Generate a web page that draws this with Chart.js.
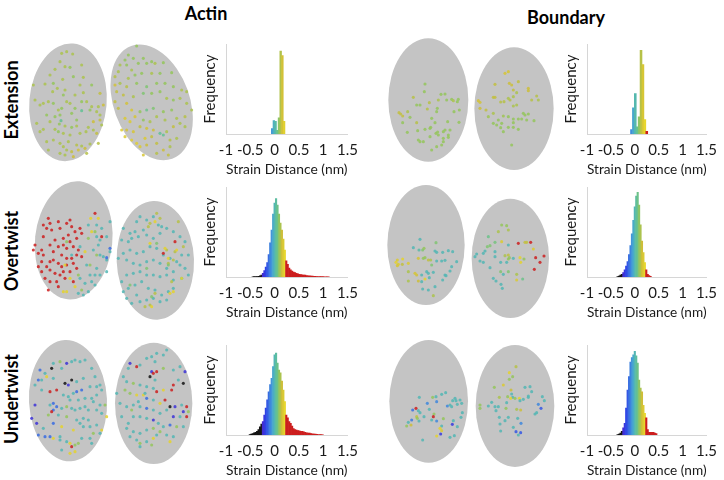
<!DOCTYPE html>
<html><head><meta charset="utf-8">
<script src="https://cdn.jsdelivr.net/npm/chart.js@4.4.1/dist/chart.umd.min.js"></script>
<style>
html,body{margin:0;padding:0;background:#fff;width:724px;height:480px;overflow:hidden;font-family:Lato,sans-serif;}
canvas{position:absolute;display:block;}
.title{position:absolute;font-weight:bold;font-size:18px;color:#000;transform:translateX(-50%);white-space:nowrap;line-height:1;}
.rowlab{position:absolute;font-weight:bold;font-size:18px;color:#000;transform:translate(-50%,-50%) rotate(-90deg);white-space:nowrap;line-height:1;}
</style></head><body>
<div class="title" style="left:206px;top:4px">Actin</div>
<div class="title" style="left:566px;top:8px">Boundary</div>
<div class="rowlab" style="left:11px;top:100px">Extension</div>
<div class="rowlab" style="left:11px;top:251px">Overtwist</div>
<div class="rowlab" style="left:11px;top:399px">Undertwist</div>
<script>
// ---------- DATA ----------
const strainTickValues = [-1, -0.5, 0, 0.5, 1, 1.5];
const strainTickLabels = ['-1', '-0.5', '0', '0.5', '1', '1.5'];
const columnTitles = ['Actin', 'Boundary'];
const rowTitles = ['Extension', 'Overtwist', 'Undertwist'];

// histogram bins (nm) and relative frequency
const extActinBins = [-0.05,-0.015,0.02,0.055,0.09,0.125,0.16,0.195];
const extActinFreq = [6,15,14,4,18,92,87,14];
const extBoundaryBins = [-0.07,-0.03,0.01,0.05,0.09,0.13,0.17,0.21,0.25];
const extBoundaryFreq = [5,29,45,8,19,93,77,16,3];

const overActinBins = [-0.45,-0.42,-0.39,-0.36,-0.33,-0.30,-0.27,-0.24,-0.21,-0.18,-0.15,-0.12,-0.09,-0.06,-0.03,0,0.03,0.06,0.09,0.12,0.15,0.18,0.21,0.24,0.27,0.30,0.33,0.36,0.39,0.42,0.45,0.48,0.51,0.54,0.57,0.60,0.63,0.66,0.69,0.72,0.75,0.78,0.81,0.84,0.87,0.90,0.93,0.96,0.99,1.02,1.05,1.08,1.11];
const overActinFreq = [0.3,0.4,0.5,0.6,0.8,1.2,2,4,7,11,16,25,38,52,70,82,87,80,70,60,52,42,30,18,14,10,8,6.5,5.5,5,4,3.5,3,2.8,2.5,2.2,2,1.6,1.4,1.2,1,1,0.8,0.7,0.6,0.5,0.5,0.4,0.4,0.3,0.3,0.2,0.2];
const overBoundaryBins = [-0.36,-0.33,-0.30,-0.27,-0.24,-0.21,-0.18,-0.15,-0.12,-0.09,-0.06,-0.03,0,0.03,0.06,0.09,0.12,0.15,0.18,0.21,0.24,0.27,0.30,0.33];
const overBoundaryFreq = [0.5,1,2,3,5,8,12,17,25,35,48,63,78,90,94,80,58,40,27,16,8,3,1.5,0.8];

const underActinBins = [-0.51,-0.48,-0.45,-0.42,-0.39,-0.36,-0.33,-0.30,-0.27,-0.24,-0.21,-0.18,-0.15,-0.12,-0.09,-0.06,-0.03,0,0.03,0.06,0.09,0.12,0.15,0.18,0.21,0.24,0.27,0.30,0.33,0.36,0.39,0.42,0.45,0.48,0.51,0.54,0.57,0.60,0.63,0.66,0.69,0.72,0.75,0.78,0.81,0.84,0.87,0.90,0.93,0.96,0.99];
const underActinFreq = [0.5,1,1.5,2.5,3,4,6,9,12,15,22,30,39,48,56,63,76,89,91,80,72,69,60,50,37,22,19,15,13,10,7,6,5.5,5,4.5,4,4,3.5,3,2.5,2,2,1.5,1.2,1,1,0.8,0.6,0.5,0.4,0.3];
const underBoundaryBins = [-0.36,-0.33,-0.30,-0.27,-0.24,-0.21,-0.18,-0.15,-0.12,-0.09,-0.06,-0.03,0,0.03,0.06,0.09,0.12,0.15,0.18,0.21,0.24,0.27,0.30,0.33,0.36,0.39,0.42,0.45];
const underBoundaryFreq = [0.5,1,2,4,8,13,30,50,65,81,86,89,93,88,80,61,52,48,33,24,19,6,3,3,3,3,2,1.5];

// cell dots: [x, y, strain] in image units of each panel
const extActinDots = [[185,40,.12],[200,35,.12],[218,42,.12],[180,65,.12],[195,80,.12],[210,82,.1],[245,75,.12],[165,88,.12],[150,105,.12],[220,110,.1],[188,118,.12],[250,112,.12],[135,132,.12],[160,130,.1],[240,135,.12],[275,135,.1],[195,150,.12],[172,145,.12],[190,165,.1],[225,165,.12],[250,158,.12],[300,160,.14],[158,155,.12],[130,190,.12],[145,185,.12],[160,190,.1],[175,210,.12],[185,205,.1],[200,185,.12],[210,190,.12],[245,185,.1],[260,185,.12],[275,200,.12],[295,200,.12],[310,195,.15],[120,195,.12],[225,205,.1],[245,212,.05],[270,210,.1],[290,215,.12],[300,225,.12],[180,225,.1],[215,220,.1],[183,242,.05],[178,252,.1],[195,258,.12],[215,262,.1],[230,258,.12],[265,262,.12],[280,245,.15],[300,240,.14],[305,255,.12],[150,245,.12],[110,250,.12],[130,268,.12],[165,268,.12],[175,275,.1],[190,280,.12],[210,285,.12],[240,280,.12],[258,275,.12],[280,270,.12],[290,280,.14],[140,305,.12],[160,300,.12],[180,310,.12],[205,305,.12],[230,315,.13],[245,318,.12],[270,312,.12],[295,310,.13],[190,320,.12],[200,330,.12],[215,335,.14],[235,330,.16],[255,325,.15],[260,340,.13],[145,330,.12],[180,340,.12],[220,350,.15],[195,345,.12],[100,135,.12],[105,180,.12],[140,225,.1],[120,275,.12],[165,230,.1],[230,240,.1],
[410,18,.1],[385,45,.1],[400,55,.1],[375,60,.1],[360,75,.12],[380,75,.1],[395,90,.12],[415,70,.1],[430,55,.1],[440,70,.1],[455,65,.1],[465,70,.12],[490,68,.1],[515,98,.1],[480,100,.1],[455,100,.12],[425,100,.1],[405,105,.1],[385,115,.12],[355,95,.12],[345,110,.13],[360,130,.12],[380,140,.13],[410,130,.1],[440,140,.08],[470,130,.1],[495,130,.1],[520,140,.1],[545,150,.12],[560,155,.12],[345,135,.16],[350,155,.14],[370,165,.14],[400,170,.12],[430,160,.08],[455,160,.1],[480,155,.1],[500,175,.12],[520,180,.1],[540,175,.12],[560,190,.12],[575,210,.12],[555,230,.13],[530,235,.12],[515,210,.1],[490,215,.1],[460,205,.08],[440,210,.06],[420,215,.1],[395,210,.17],[380,190,.16],[345,185,.14],[355,205,.14],[375,235,.18],[390,245,.18],[405,230,.17],[430,240,.1],[450,245,.12],[470,230,.12],[495,240,.12],[540,250,.12],[555,260,.12],[520,260,.14],[500,275,.12],[480,280,.05],[460,270,.15],[440,265,.16],[420,260,.14],[400,275,.17],[380,270,.16],[365,270,.18],[375,290,.18],[395,300,.19],[410,310,.19],[435,295,.18],[455,290,.14],[490,285,.05],[510,300,.13],[530,295,.12],[420,320,.18],[440,315,.15],[470,310,.14],[490,330,.15],[505,345,.14],[470,340,.13],[510,320,.12],[430,345,.17]];

const overActinDots = [[130,150,.35],[145,130,.35],[150,145,.35],[140,160,.35],[130,185,.35],[155,165,.35],[175,140,.35],[180,160,.35],[200,145,.35],[210,135,.35],[215,155,.35],[225,170,.35],[205,180,.35],[190,190,.35],[210,200,.35],[230,190,.35],[240,160,.35],[165,195,.35],[150,210,.35],[175,215,.35],[190,210,.35],[200,220,.35],[220,215,.35],[230,240,.35],[245,245,.35],[105,210,.35],[115,235,.35],[130,240,.35],[125,225,.35],[150,260,.35],[160,255,.35],[175,265,.35],[185,275,.35],[200,270,.35],[220,265,.35],[215,250,.35],[140,275,.35],[115,275,.35],[125,290,.35],[150,285,.35],[165,295,.35],[180,300,.35],[190,290,.35],[210,290,.35],[230,280,.35],[135,310,.35],[150,320,.35],[175,335,.35],[145,345,.35],[195,310,.35],[125,260,.35],[100,225,.35],[235,225,.35],[185,240,.35],[160,230,.35],[285,115,.35],[305,185,.35],[245,175,.35],[200,250,.35],[170,320,.35],[220,320,.35],
[272,130,.2],[295,130,.2],[275,170,.2],[255,230,.2],[195,270,.2],[210,310,.2],[200,350,.2],[190,350,.2],[225,335,.2],
[265,190,.1],[285,170,.1],[235,300,.1],[245,345,.1],[270,270,.1],[290,240,.1],[200,200,.1],
[265,150,0],[290,150,0],[305,160,0],[320,185,0],[330,140,0],[290,185,0],[295,210,0],[280,225,0],[300,240,0],[310,245,0],[320,255,0],[330,230,0],[240,215,0],[215,240,0],[260,270,0],[290,280,0],[300,300,0],[285,300,0],[270,300,0],[275,320,0],[255,325,0],[240,310,0],[265,350,0],[250,360,0],[235,355,0],[300,195,0],[320,290,0],[285,330,0],
[330,220,-.12],[320,248,-.12],
[420,125,0],[410,140,0],[440,135,0],[460,125,0],[475,150,0],[485,155,0],[430,165,0],[405,170,0],[390,175,0],[370,160,0],[365,195,0],[385,200,0],[395,190,0],[415,185,0],[440,180,0],[460,190,0],[480,175,0],[500,160,0],[520,170,0],[540,185,0],[555,200,0],[565,240,0],[545,240,0],[530,260,0],[510,250,0],[490,240,0],[470,220,0],[450,215,0],[430,230,0],[410,235,0],[390,225,0],[370,235,0],[355,250,0],[380,255,0],[400,265,0],[420,270,0],[440,260,0],[460,255,0],[480,265,0],[500,280,0],[520,290,0],[540,270,0],[555,280,0],[565,300,0],[545,310,0],[520,315,0],[500,300,0],[480,305,0],[460,300,0],[440,300,0],[420,290,0],[400,295,0],[380,300,0],[365,320,0],[385,340,0],[405,330,0],[425,320,0],[445,340,0],[465,345,0],[485,360,0],[505,350,0],[520,340,0],[410,360,0],[395,385,0],[420,380,0],[440,375,0],[460,370,0],[480,380,0],[500,375,0],[370,350,0],[380,370,0],
[470,115,.13],[480,130,.13],[450,145,.13],[445,155,.13],[535,140,.13],[500,225,.13],[550,215,.13],[525,230,.13],[505,265,.13],[520,255,.13],[515,320,.13],[465,355,.13],[450,390,.13],[435,395,.13],
[505,250,.2],[530,225,.2],[465,140,.2],[520,350,.2],[510,355,.2],[455,395,.2],[450,205,.2],[495,220,.2],[545,310,.2],
[525,200,.35],[490,235,.35],
[470,205,.08],[505,270,.08],[440,280,.08],[455,365,.08],[390,330,.08]];

const underActinDots = [[160,160,0],[180,155,.1],[200,160,-.22],[215,155,0],[225,150,0],[240,155,0],[255,150,0],[275,175,0],[120,180,-.12],[135,190,0],[155,175,-.35],[115,210,-.12],[105,225,0],[125,210,0],[140,200,.2],[160,205,0],[195,220,-.35],[205,225,-.22],[215,210,-.35],[230,215,0],[250,205,0],[285,200,0],[290,230,0],[300,225,0],[305,240,0],[270,230,0],[245,240,-.12],[230,245,-.12],[150,245,.35],[170,240,.35],[125,240,0],[190,255,0],[205,260,0],[220,250,0],[235,270,0],[255,265,0],[275,265,0],[290,255,0],[280,275,0],[300,285,0],[315,285,.1],[105,285,-.22],[150,285,0],[160,280,-.12],[170,290,-.12],[160,300,-.12],[185,295,0],[200,290,.1],[215,295,0],[225,300,0],[240,295,0],[255,290,0],[265,300,0],[290,300,0],[305,310,0],[320,320,.2],[155,305,.35],[145,315,.1],[175,315,0],[200,320,.1],[230,330,0],[250,325,0],[265,330,0],[270,350,0],[290,345,0],[305,360,.2],[300,370,0],[280,370,.1],[270,385,0],[250,350,0],[240,340,0],[220,360,.2],[185,350,.2],[160,340,-.12],[110,340,-.22],[95,325,-.22],[115,375,-.12],[135,380,-.12],[150,380,-.12],[160,385,.2],[180,390,0],[200,395,0],[210,400,.2],[215,410,.35],[225,405,.1],[235,400,.1],[210,430,.2],[225,425,.2],[185,420,0],[245,385,0],[130,355,0],[210,270,0],[185,175,0],[180,380,0],[275,400,0],
[390,160,-.22],[385,175,0],[410,170,.35],[420,165,0],[440,145,0],[455,140,0],[470,130,0],[490,135,0],[500,120,0],[465,155,0],[455,185,-.22],[460,190,.35],[450,200,-.35],[470,185,.35],[465,210,0],[490,175,.1],[520,180,0],[540,170,0],[555,185,-.22],[550,220,-.35],[535,210,0],[520,225,.35],[515,240,.35],[490,240,.2],[470,245,.35],[460,235,0],[440,230,0],[420,225,0],[400,220,.1],[380,215,0],[370,200,0],[375,240,.1],[390,250,.1],[410,255,.2],[430,255,.2],[440,265,-.12],[460,270,0],[480,280,.2],[495,270,.35],[510,290,-.35],[525,290,-.22],[545,285,0],[560,290,.35],[565,305,.1],[550,305,-.22],[560,320,.35],[540,320,0],[520,320,-.22],[500,300,0],[480,310,0],[460,300,0],[440,295,-.12],[420,290,0],[400,285,0],[380,290,0],[360,280,0],[350,250,0],[365,320,0],[385,340,0],[400,320,0],[420,320,0],[440,325,0],[460,330,-.22],[475,340,0],[490,350,0],[510,345,-.12],[530,350,.1],[550,350,0],[380,355,0],[400,365,0],[420,370,0],[440,360,0],[460,355,.1],[480,365,.1],[500,375,0],[520,380,0],[390,380,0],[410,390,0],[420,400,.1],[440,395,0],[460,385,.2],[470,375,0],[455,405,.1],[510,395,.2],[420,410,0],[435,250,0],[415,275,0],[395,300,.1]];

const extBoundaryDots = [[135,132,.1],[133,155,.1],[100,172,.13],[110,195,.1],[120,195,.1],[148,188,.13],[142,207,.13],[57,218,.14],[62,222,.14],[68,228,.14],[83,215,.12],[90,232,.1],[110,248,.13],[68,248,.1],[82,277,.1],[135,268,.1],[152,262,.1],[155,235,.1],[170,215,.1],[172,205,.1],[175,180,.12],[183,163,.1],[195,162,.1],[200,180,.1],[215,178,.1],[220,182,.12],[232,185,.1],[235,178,.1],[238,210,.1],[222,215,.1],[203,245,.1],[237,247,.1],[165,248,.1],[150,290,.1],[168,280,.1],[175,285,.1],[190,275,.1],[195,270,.1],[205,285,.1],[210,270,.1],[190,295,.1],[185,315,.1],[170,320,.1],[155,330,.1],[130,305,.1],[115,300,.1],[120,305,.1],[205,292,.1],[190,305,.1],[150,265,.1],[173,276,.1],[113,272,.1],
[375,100,.17],[385,95,.17],[345,133,.14],[388,130,.15],[395,135,.15],[415,125,.14],[400,150,.14],[410,158,.12],[445,145,.15],[445,152,.15],[295,182,.16],[300,187,.16],[340,172,.14],[345,172,.14],[362,186,.13],[372,185,.13],[385,175,.12],[390,180,.13],[400,170,.12],[410,195,.12],[400,198,.12],[455,180,.13],[470,168,.13],[475,180,.12],[300,205,.15],[318,210,.14],[340,220,.12],[325,230,.11],[355,240,.1],[340,250,.1],[350,255,.1],[365,250,.1],[370,228,.11],[385,230,.1],[400,237,.1],[415,237,.1],[425,237,.1],[440,240,.1],[462,242,.1],[430,220,.1],[445,222,.1],[435,225,.1],[385,262,.1],[400,262,.1],[415,268,.1],[370,275,.1],[395,315,.1],[400,248,.1],[362,263,.1]];

const overBoundaryDots = [[120,193,0],[100,218,0],[117,225,.02],[128,225,.08],[132,220,.1],[168,203,.08],[165,228,0],[170,232,0],[188,232,0],[205,227,0],[218,230,0],[52,255,.18],[48,262,.2],[55,268,.18],[52,272,.17],[67,268,.14],[68,252,.2],[85,265,.18],[115,250,.16],[130,250,.1],[135,248,.1],[145,255,.14],[152,255,.12],[155,270,.08],[170,258,0],[185,258,0],[195,256,0],[215,275,0],[230,260,0],[85,290,.12],[105,295,.17],[110,300,.16],[125,300,0],[140,290,0],[145,295,0],[160,292,0],[195,300,0],[210,288,0],[85,318,.12],[115,318,.15],[125,320,0],[135,312,.2],[148,308,0],[188,315,0],[165,335,0],[128,342,0],[145,345,0],[160,362,.12],[198,302,0],
[365,150,.1],[380,152,.1],[385,165,.12],[355,170,.12],[325,185,.06],[330,212,.08],[322,215,.08],[345,202,.07],[365,200,.18],[385,210,0],[415,205,.35],[435,202,.14],[440,202,.14],[452,202,.35],[460,222,.18],[315,228,0],[310,235,0],[345,230,0],[375,242,.12],[385,240,.14],[388,248,.1],[400,250,0],[420,248,.2],[432,252,.1],[422,262,.2],[467,248,.35],[492,243,.35],[480,262,.35],[463,283,.35],[290,237,0],[285,245,0],[300,258,0],[310,262,0],[330,278,0],[345,245,0],[362,262,0],[380,262,0],[362,290,.08],[370,298,0],[385,290,.08],[410,298,.12],[410,315,.18],[428,312,.06],[340,310,0],[348,318,0],[363,328,0],[367,340,0],[385,252,.1]];

const underBoundaryDots = [[118,262,0],[158,262,.1],[168,260,0],[185,253,0],[197,248,0],[170,275,-.08],[142,280,-.08],[225,265,0],[218,272,0],[228,272,0],[240,270,0],[245,280,0],[232,283,0],[210,285,0],[202,288,-.08],[215,290,0],[108,295,.35],[98,300,-.12],[115,302,0],[120,308,0],[148,298,0],[162,312,.1],[160,320,.35],[132,320,0],[110,320,.14],[112,325,.1],[95,330,-.1],[85,337,0],[117,333,0],[155,330,0],[170,333,-.08],[190,326,.1],[247,308,0],[243,322,0],[220,332,0],[185,348,0],[93,345,.15],[80,348,.1],[217,343,-.2],[232,350,0],[180,355,.2],[185,362,.18],[182,372,-.2],[170,378,.2],[210,382,0],[223,377,0],[128,390,0],
[408,170,.13],[388,188,.2],[398,200,.1],[388,208,.1],[370,225,.18],[343,232,.1],[435,232,0],[450,230,0],[455,245,0],[393,240,.15],[395,252,0],[398,262,0],[392,265,.2],[405,265,.1],[418,265,.2],[383,260,.1],[358,262,.12],[430,268,0],[445,262,0],[487,260,0],[493,272,0],[475,283,-.08],[483,295,-.15],[470,308,0],[465,312,0],[335,277,0],[325,288,0],[300,285,.1],[300,295,.1],[345,290,0],[355,290,0],[348,302,0],[380,278,0],[378,295,.1],[410,298,.12],[422,300,.15],[358,322,0],[375,332,0],[385,322,0],[413,325,0],[423,340,-.08],[360,342,0],[400,352,0],[362,363,0],[408,365,-.15],[422,368,-.15],[415,375,0],[445,258,0],[420,272,0]];

// ---------- STYLE / LAYOUT ----------
const strainStops = [[-0.6,'#0a0a0a'],[-0.27,'#161616'],[-0.26,'#4b22c8'],[-0.18,'#2f42e6'],[-0.1,'#3b7ae0'],[-0.04,'#45a2d6'],[0,'#52b6b4'],[0.05,'#62c194'],[0.1,'#94c65c'],[0.15,'#cdbe3a'],[0.21,'#e8d62c'],[0.225,'#cc1e1e'],[1.6,'#cc1e1e']];
function hex2rgb(h){return [parseInt(h.slice(1,3),16),parseInt(h.slice(3,5),16),parseInt(h.slice(5,7),16)];}
function strainRGB(v){
  if (v <= strainStops[0][0]) return hex2rgb(strainStops[0][1]);
  for (let i=1;i<strainStops.length;i++){
    if (v <= strainStops[i][0]){
      const [v0,c0]=strainStops[i-1],[v1,c1]=strainStops[i];
      const t=(v-v0)/(v1-v0), a=hex2rgb(c0), b=hex2rgb(c1);
      return a.map((x,k)=>Math.round(x+(b[k]-x)*t));
    }
  }
  return hex2rgb(strainStops[strainStops.length-1][1]);
}
function strainColor(v,alpha){const c=strainRGB(v);return alpha===undefined?'rgb('+c.join(',')+')':'rgba('+c.join(',')+','+alpha+')';}

function makeCanvas(L,T,W,H){
  const c=document.createElement('canvas');
  c.width=W;c.height=H;c.style.left=L+'px';c.style.top=T+'px';c.style.width=W+'px';c.style.height=H+'px';
  document.body.appendChild(c);return c;
}

const FONT='Lato';
function histChart(L,T,W,padR,bins,freq){
  const c=makeCanvas(L,T,W,142);
  new Chart(c,{
    type:'bar',
    data:{datasets:[{data:bins.map((b,i)=>({x:b,y:freq[i]})),backgroundColor:ctx=>strainColor(ctx.raw?ctx.raw.x:0),borderWidth:0,barPercentage:1,categoryPercentage:1}]},
    options:{responsive:false,animation:false,events:[],
      layout:{autoPadding:false,padding:{top:6,right:padR,left:0,bottom:0}},
      plugins:{legend:{display:false},tooltip:{enabled:false}},
      scales:{
        x:{type:'linear',min:-1,max:1.5,offset:false,
          grid:{display:false,drawTicks:false},border:{display:true,color:'#d6d6d6',width:1},
          afterBuildTicks:s=>{s.ticks=strainTickValues.map(v=>({value:v}));},
          ticks:{padding:7,autoSkip:false,maxRotation:0,color:'#1a1a1a',font:{family:FONT,size:15},callback:(v)=>strainTickLabels[strainTickValues.indexOf(v)]},
          title:{display:true,text:'Strain Distance (nm)',color:'#1a1a1a',font:{family:FONT,size:14},padding:{top:0,bottom:2}},
          afterFit:s=>{s.height=46;}},
        y:{min:0,max:100,grid:{display:false,drawTicks:false},border:{display:true,color:'#d6d6d6',width:1},
          ticks:{display:false},
          title:{display:true,text:'Frequency',color:'#1a1a1a',font:{family:FONT,size:15},padding:{top:6,bottom:0}},
          afterFit:s=>{s.width=31;}}
      }}
  });
}

const cellPlugin={id:'cells',beforeDatasetsDraw(chart,args,opts){
  const ctx=chart.ctx,xs=chart.scales.x,ys=chart.scales.y;
  ctx.save();
  for(const [cx,cy,a,b,rot] of opts.outlines){
    const px=xs.getPixelForValue(cx),py=ys.getPixelForValue(cy);
    const rx=Math.abs(xs.getPixelForValue(cx+a)-px),ry=Math.abs(ys.getPixelForValue(cy+b)-py);
    ctx.beginPath();ctx.ellipse(px,py,rx,ry,rot*Math.PI/180,0,Math.PI*2);
    ctx.fillStyle='#c4c4c4';ctx.fill();
  }
  ctx.restore();
}};

function cellChart(L,T,W,H,ox,oy,outlines,dots){
  const c=makeCanvas(L,T,W,H);
  new Chart(c,{
    type:'scatter',
    data:{datasets:[{data:dots.map(d=>({x:d[0],y:d[1],c:d[2]})),pointRadius:1.55,pointBorderWidth:0,
      pointBackgroundColor:ctx=>strainColor(ctx.raw?ctx.raw.c:0,0.85)}]},
    options:{responsive:false,animation:false,events:[],
      layout:{autoPadding:false,padding:0},
      plugins:{legend:{display:false},tooltip:{enabled:false},cells:{outlines}},
      scales:{x:{type:'linear',display:false,min:(L-ox)*3,max:(L+W-ox)*3},
              y:{type:'linear',display:false,reverse:true,min:(T-oy)*3,max:(T+H-oy)*3}}},
    plugins:[cellPlugin]
  });
}

// cell outlines [cx, cy, semi-x, semi-y, rotation deg] in the same image units as dots
cellChart(20,36,182,136,0,40,[[204,187,116,177,5],[455,187,114,180,-20]],extActinDots);
cellChart(20,172,182,150,0,175,[[221,196,116,178,6],[466,256,116,178,-2]],overActinDots);
cellChart(20,324,182,152,0,310,[[204,272,117,182,-3],[461,280,116,182,0]],underActinDots);
cellChart(383,34,177,138,380,40,[[145,180,120,185,0],[402,206,119,184,0]],extBoundaryDots);
cellChart(383,172,177,150,380,175,[[138,210,116,180,0],[391,250,116,179,0]],overBoundaryDots);
cellChart(383,324,177,152,380,310,[[146,274,118,184,0],[405,288,118,183,0]],underBoundaryDots);

histChart(195,38,170,15,extActinBins,extActinFreq);
histChart(195,181,170,15,overActinBins,overActinFreq);
histChart(195,339,170,15,underActinBins,underActinFreq);
histChart(556,38,168,12,extBoundaryBins,extBoundaryFreq);
histChart(556,181,168,12,overBoundaryBins,overBoundaryFreq);
histChart(556,339,168,12,underBoundaryBins,underBoundaryFreq);
</script>
</body></html>
